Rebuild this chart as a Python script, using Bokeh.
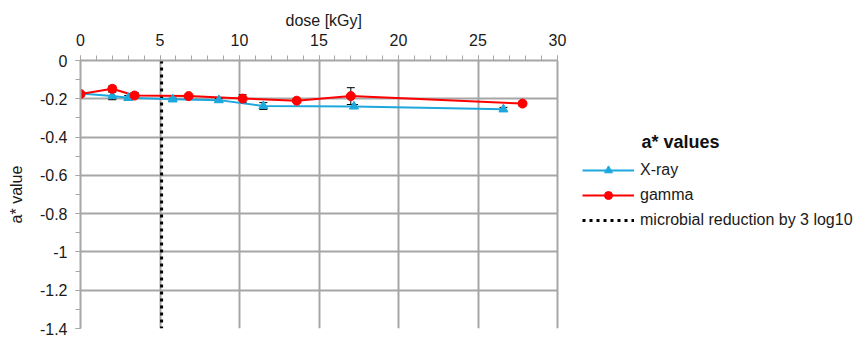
from bokeh.plotting import figure
from bokeh.models import (Range1d, FixedTicker, CustomJSTickFormatter, Whisker, TeeHead,
                          ColumnDataSource, Legend, LegendItem, Label, Title)
from bokeh.embed import file_html
from bokeh.resources import INLINE

# ---- data ----
xray_dose = [0.0, 2.0, 3.0, 5.8, 8.7, 11.5, 17.2, 26.6]
xray_a = [-0.173, -0.185, -0.195, -0.203, -0.207, -0.238, -0.240, -0.255]
xray_err = [0.005, 0.020, 0.012, 0.006, 0.008, 0.018, 0.010, 0.010]

gamma_dose = [0.0, 2.0, 3.4, 6.8, 10.2, 13.6, 17.0, 27.8]
gamma_a = [-0.175, -0.148, -0.183, -0.186, -0.199, -0.210, -0.186, -0.225]
gamma_err = [0.005, 0.015, 0.015, 0.006, 0.020, 0.008, 0.044, 0.012]

reduction_dose = 5.1

x_max = 30
x_ticks = [0, 5, 10, 15, 20, 25, 30]
x_minor = list(range(0, 31))
y_ticks = [-1.4, -1.2, -1.0, -0.8, -0.6, -0.4, -0.2, 0.0]
y_minor = [-1.4, -1.3, -1.2, -1.1, -1.0, -0.9, -0.8, -0.7, -0.6, -0.5, -0.4, -0.3, -0.2, -0.1, 0.0]

FONT = "Liberation Sans"
FS = "16px"
TXT = "#1a1a1a"
GRID = "#A6A6A6"
BLUE = "#1CA8DD"
RED = "#FF0000"

# plot frame spans the whole width; the data area is 477 px for 0..30,
# the remainder hosts the legend
FRAME_W = 866 - 80
DATA_W = 477
x_end = x_max * FRAME_W / DATA_W

p = figure(width=866, height=340, output_backend="svg", toolbar_location=None,
           x_range=Range1d(0, x_end), y_range=Range1d(-1.4, 0), x_axis_location="above",
           min_border_left=80, min_border_right=0, min_border_top=60, min_border_bottom=12)

p.outline_line_color = None
p.background_fill_color = "white"

for ax in (p.xaxis[0], p.yaxis[0]):
    ax.axis_line_color = GRID
    ax.axis_line_width = 2
    ax.major_tick_line_color = GRID
    ax.minor_tick_line_color = GRID
    ax.major_tick_out = 5
    ax.major_tick_in = 0
    ax.minor_tick_out = 5
    ax.minor_tick_in = 0
    ax.major_label_text_font = FONT
    ax.major_label_text_font_size = FS
    ax.major_label_text_color = TXT
    ax.axis_label_text_font = FONT
    ax.axis_label_text_font_size = FS
    ax.axis_label_text_font_style = "normal"
    ax.axis_label_text_color = TXT

p.xaxis[0].bounds = (0, x_max)
p.xaxis[0].ticker = FixedTicker(ticks=x_ticks, minor_ticks=x_minor)
p.yaxis[0].ticker = FixedTicker(ticks=y_ticks, minor_ticks=y_minor)
p.yaxis[0].formatter = CustomJSTickFormatter(code="return Number(tick.toFixed(1)).toString();")
p.yaxis[0].axis_label = "a* value"
p.xaxis[0].major_label_standoff = 10
p.yaxis[0].major_label_standoff = 8
p.yaxis[0].axis_label_standoff = 12

# x-axis title centred over the data area (0..30)
xt = Title(text="dose [kGy]", align="left", offset=205, text_font=FONT, text_font_size=FS,
           text_font_style="normal", text_color=TXT, standoff=4)
p.add_layout(xt, "above")

p.xgrid.grid_line_color = GRID
p.xgrid.grid_line_width = 2
p.xgrid.bounds = (0, x_max)
p.ygrid.grid_line_color = GRID
p.ygrid.grid_line_width = 2
p.ygrid.cross_bounds = (0, x_max)

# reduction line
red_src = ColumnDataSource(dict(x=[reduction_dose, reduction_dose], y=[0, -1.4]))
r_red = p.line("x", "y", source=red_src, line_color="black", line_width=3, line_dash="3 4")

xs = ColumnDataSource(dict(x=xray_dose, y=xray_a,
                           lo=[a - e for a, e in zip(xray_a, xray_err)],
                           hi=[a + e for a, e in zip(xray_a, xray_err)]))
gs = ColumnDataSource(dict(x=gamma_dose, y=gamma_a,
                           lo=[a - e for a, e in zip(gamma_a, gamma_err)],
                           hi=[a + e for a, e in zip(gamma_a, gamma_err)]))

lx = p.line("x", "y", source=xs, line_color=BLUE, line_width=2)
ly = p.line("x", "y", source=gs, line_color=RED, line_width=2)

for src in (xs, gs):
    w = Whisker(source=src, base="x", upper="hi", lower="lo", line_color="black", line_width=1,
                upper_head=TeeHead(size=8, line_color="black", line_width=1),
                lower_head=TeeHead(size=8, line_color="black", line_width=1))
    p.add_layout(w)

mx = p.scatter("x", "y", source=xs, marker="triangle", size=9, fill_color=BLUE, line_color=BLUE)
mg = p.scatter("x", "y", source=gs, marker="circle", size=9, fill_color=RED, line_color=RED)

legend = Legend(items=[
    LegendItem(label="X-ray", renderers=[lx, mx]),
    LegendItem(label="gamma", renderers=[ly, mg]),
    LegendItem(label="microbial reduction by 3 log10", renderers=[r_red]),
], location=(502, 98))
legend.glyph_width = 52
legend.glyph_height = 20
legend.label_height = 20
legend.spacing = 5
legend.padding = 0
legend.margin = 0
legend.label_standoff = 6
legend.label_text_font = FONT
legend.label_text_font_size = FS
legend.label_text_color = TXT
legend.border_line_color = None
legend.background_fill_alpha = 0
p.add_layout(legend)

title = Label(x=561, y=187, x_units="screen", y_units="screen", text="a* values",
              text_font=FONT, text_font_size="18px", text_font_style="bold",
              text_baseline="middle", text_color="#111111")
p.add_layout(title)

open("out.html", "w").write(file_html(p, INLINE))
